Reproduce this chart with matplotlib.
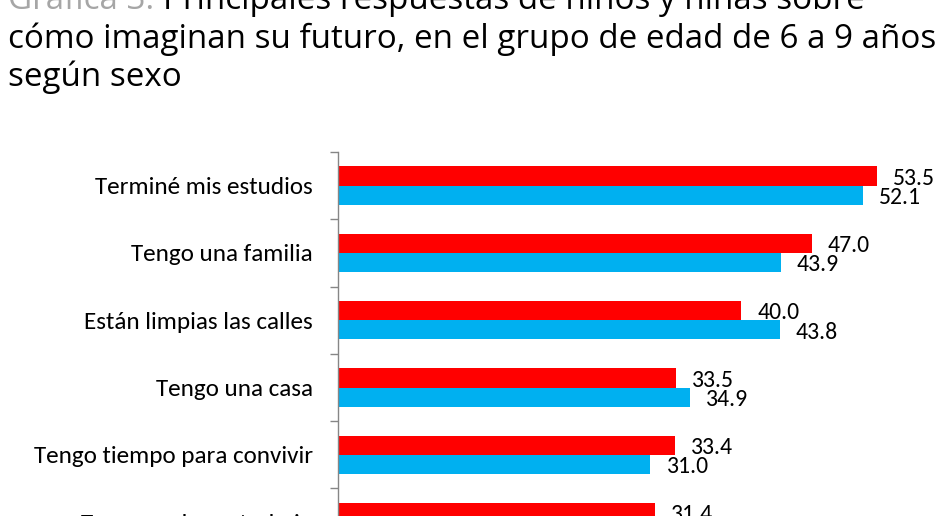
import matplotlib
matplotlib.use('Agg')
import matplotlib.pyplot as plt
import numpy as np
from matplotlib import font_manager

# ---------------- data ----------------
categories = ["Terminé mis estudios", "Tengo una familia", "Están limpias las calles",
              "Tengo una casa", "Tengo tiempo para convivir", "Tengo un buen trabajo"]
ninas = [53.5, 47.0, 40.0, 33.5, 33.4, 31.4]
ninos = [52.1, 43.9, 43.8, 34.9, 31.0, np.nan]   # last value not visible in the crop

title_prefix = "Gráfica 3. "
title_lines = ["Principales respuestas de niños y niñas sobre",
               "cómo imaginan su futuro, en el grupo de edad de 6 a 9 años",
               "según sexo"]

RED = "#FF0000"
BLUE = "#00B0F0"
GREY = "#868686"

avail = {f.name for f in font_manager.fontManager.ttflist}
def pick(*names):
    for n in names:
        if n in avail:
            return n
    return "DejaVu Sans"

label_font = pick("Carlito", "Lato", "Open Sans")
title_font = pick("Open Sans", "Roboto", "Lato")

W, H = 950, 516
fig = plt.figure(figsize=(W / 100, H / 100), dpi=100)
renderer = fig.canvas.get_renderer()

def width_px(s, family, size):
    t = fig.text(0, 0, s, family=family, fontsize=size)
    w = t.get_window_extent(renderer).width
    t.remove()
    return w

def fit(s, family, target, base=20.0):
    return base * target / width_px(s, family, base)

cat_fs = fit("Tengo tiempo para convivir", label_font, 279)
val_fs = fit("53.5", label_font, 42)
title_fs = fit(title_lines[1], title_font, 927)

# ---------------- axes ----------------
n = len(categories)
pitch = 67.3
top_px = 152
ax_h = n * pitch
left_px = 338
scale = 10.08          # px per unit
xmax = 60
ax = fig.add_axes([left_px / W, 1 - (top_px + ax_h) / H,
                   xmax * scale / W, ax_h / H])

y = np.arange(n)
h = 0.285
ax.barh(y - h / 2, ninas, height=h, color=RED, linewidth=0)
ax.barh(y + h / 2, ninos, height=h, color=BLUE, linewidth=0)

ax.set_xlim(0, xmax)
ax.set_ylim(n - 0.5, -0.5)

for yy, v in zip(y - h / 2, ninas):
    if not np.isnan(v):
        ax.annotate(f"{v:.1f}", (v, yy), xytext=(11.5, -6.3), textcoords="offset points",
                    va="baseline", ha="left", fontsize=val_fs, family=label_font, color="black")
for yy, v in zip(y + h / 2, ninos):
    if not np.isnan(v):
        ax.annotate(f"{v:.1f}", (v, yy), xytext=(11.5, -6.3), textcoords="offset points",
                    va="baseline", ha="left", fontsize=val_fs, family=label_font, color="black")

for s in ["top", "right", "bottom"]:
    ax.spines[s].set_visible(False)
ax.spines["left"].set_color(GREY)
ax.spines["left"].set_linewidth(1.0)
ax.set_xticks([])

ax.set_yticks(np.arange(n + 1) - 0.5)
ax.set_yticklabels([])
ax.tick_params(axis="y", which="major", length=5.8, width=1.0, color=GREY, direction="out")
ax.set_yticks(y, minor=True)
ax.set_yticklabels(categories, minor=True, fontsize=cat_fs, family=label_font)
ax.tick_params(axis="y", which="minor", length=0, pad=18)

# ---------------- title ----------------
x0 = 8 / W
baselines = [9, 48.5, 86]
tp = fig.text(x0, 1 - baselines[0] / H, title_prefix, family=title_font, fontsize=title_fs,
              color="#A6A6A6", va="baseline", ha="left")
pw = tp.get_window_extent(renderer).width
fig.text(x0 + pw / W, 1 - baselines[0] / H, title_lines[0], family=title_font,
         fontsize=title_fs, color="black", va="baseline", ha="left")
for line, b in zip(title_lines[1:], baselines[1:]):
    fig.text(x0, 1 - b / H, line, family=title_font, fontsize=title_fs,
             color="black", va="baseline", ha="left")

fig.savefig("out.png", dpi=100)
